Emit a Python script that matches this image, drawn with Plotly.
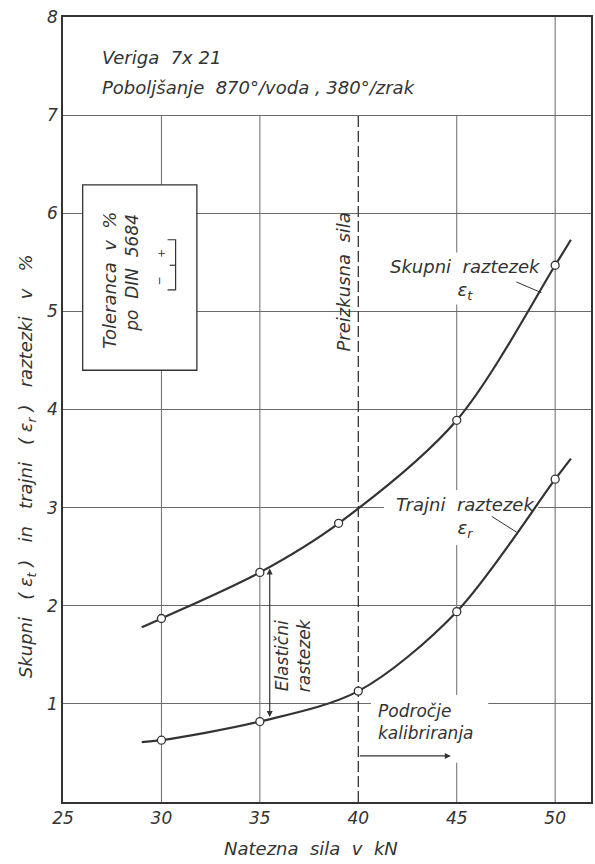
import plotly.graph_objects as go

# Measured points (tensile force in kN, elongation in %)
force_total = [30, 35, 39, 45, 50]
elong_total = [1.87, 2.34, 2.84, 3.89, 5.47]
force_perm = [30, 35, 40, 45, 50]
elong_perm = [0.63, 0.82, 1.13, 1.94, 3.29]

# Ends of the drawn curves beyond the measured points
total_start, total_end = (29.0, 1.78), (50.8, 5.73)
perm_start, perm_end = (29.0, 0.61), (50.8, 3.50)

x_ticks = [25, 30, 35, 40, 45, 50]
y_ticks = [1, 2, 3, 4, 5, 6, 7, 8]
proof_force = 40

INK = "#333333"
GRID = "#6a6a6a"
FONT = "DejaVu Sans"

fig = go.Figure()

def curve(start, xs, ys, end):
    cx = [start[0]] + xs + [end[0]]
    cy = [start[1]] + ys + [end[1]]
    fig.add_trace(go.Scatter(x=cx, y=cy, mode="lines",
                             line=dict(color=INK, width=2.2, shape="spline", smoothing=0.9),
                             hoverinfo="skip", showlegend=False))
    fig.add_trace(go.Scatter(x=xs, y=ys, mode="markers",
                             marker=dict(symbol="circle", size=8, color="white",
                                         line=dict(color=INK, width=1.3)),
                             showlegend=False))

curve(total_start, force_total, elong_total, total_end)
curve(perm_start, force_perm, elong_perm, perm_end)

shapes = []
# vertical grid lines (stop at 7 except the last one)
for xv in [30, 35, 45]:
    shapes.append(dict(type="line", x0=xv, x1=xv, y0=0, y1=7, layer="below",
                       line=dict(color=GRID, width=1)))
shapes.append(dict(type="line", x0=50, x1=50, y0=0, y1=8, layer="below",
                   line=dict(color=GRID, width=1)))
# white gaps in the grid behind the curve labels
for x0, x1, y0, y1 in [(41.45, 49.44, 5.07, 5.60), (41.3, 49.14, 2.62, 3.18),
                       (40.64, 46.6, 0.40, 1.09)]:
    shapes.append(dict(type="rect", x0=x0, x1=x1, y0=y0, y1=y1, layer="between",
                       fillcolor="white", line=dict(width=0)))
# proof-force line
shapes.append(dict(type="line", x0=proof_force, x1=proof_force, y0=0, y1=7, layer="between",
                   line=dict(color=INK, width=1.3, dash="11px,4px")))
# tolerance box
shapes.append(dict(type="rect", x0=26.0, x1=31.8, y0=4.40, y1=6.29, layer="above",
                   fillcolor="white", line=dict(color=INK, width=1.3)))
# tolerance bracket symbol
shapes.append(dict(type="path", path="M 30.31,5.73 L 30.72,5.73 L 30.72,5.22 L 30.31,5.22",
                   layer="above", line=dict(color=INK, width=1.2)))
shapes.append(dict(type="line", x0=30.42, x1=30.72, y0=5.47, y1=5.47, layer="above",
                   line=dict(color=INK, width=1.2)))
# leader lines
shapes.append(dict(type="line", x0=48.03, y0=5.30, x1=49.30, y1=5.19, layer="above",
                   line=dict(color=INK, width=1)))
shapes.append(dict(type="line", x0=46.78, y0=2.91, x1=48.04, y1=2.75, layer="above",
                   line=dict(color=INK, width=1)))

def txt(x, y, s, size=17, angle=0, xanchor="center", align="center"):
    fig.add_annotation(x=x, y=y, text=s, showarrow=False, textangle=angle,
                       xanchor=xanchor, align=align,
                       font=dict(family=FONT, size=size, color=INK, style="italic"))

txt(26.87, 7.59, "Veriga  7x 21", size=18, xanchor="left")
txt(26.87, 7.28, "Poboljšanje  870°/voda , 380°/zrak", size=18, xanchor="left")
txt(27.38, 5.32, "Toleranca  v  %", size=18, angle=-90)
txt(28.49, 5.39, "po  DIN  5684", size=17, angle=-90)
txt(30.01, 5.59, "+", size=11, angle=-90)
txt(29.91, 5.31, "−", size=11, angle=-90)
txt(39.25, 5.30, "Preizkusna  sila", size=18, angle=-90)
txt(45.45, 5.32, "Skupni  raztezek<br>ε<sub>t</sub>", size=18)
txt(45.43, 2.90, "Trajni  raztezek<br>ε<sub>r</sub>", size=18)
txt(36.65, 1.50, "Elastični<br>rastezek", size=17, angle=-90)
txt(40.90, 0.82, "Področje<br>kalibriranja", size=17, xanchor="left", align="left")

# elastic elongation double arrow
fig.add_annotation(x=35.5, y=2.38, ax=35.5, ay=0.85, xref="x", yref="y", axref="x", ayref="y",
                   text="", showarrow=True, arrowhead=2, startarrowhead=2, arrowside="end+start",
                   arrowsize=1, arrowwidth=1.2, arrowcolor=INK)
# calibration range arrow
fig.add_annotation(x=44.7, y=0.47, ax=proof_force, ay=0.47, xref="x", yref="y", axref="x",
                   ayref="y", text="", showarrow=True, arrowhead=2, arrowsize=1,
                   arrowwidth=1.2, arrowcolor=INK)

# axis titles
fig.add_annotation(x=0.47, y=-0.059, xref="paper", yref="paper", showarrow=False,
                   text="Natezna  sila  v  kN", yanchor="middle",
                   font=dict(family=FONT, size=18, color=INK, style="italic"))
fig.add_annotation(x=-0.068, y=0.428, xref="paper", yref="paper", showarrow=False,
                   textangle=-90, xanchor="center", yanchor="middle",
                   text="Skupni   ( ε<sub>t</sub> )   in   trajni   ( ε<sub>r</sub> )   raztezki   v   %",
                   font=dict(family=FONT, size=18, color=INK, style="italic"))

fig.update_layout(
    width=595, height=864,
    margin=dict(l=63, r=2, t=17, b=62),
    paper_bgcolor="white", plot_bgcolor="white",
    shapes=shapes,
    xaxis=dict(range=[25, 51.82], tickvals=x_ticks, showgrid=False, zeroline=False,
               showline=True, mirror=True, linecolor=INK, linewidth=1.6, ticks="",
               tickfont=dict(family=FONT, size=17, color=INK, style="italic")),
    yaxis=dict(range=[0, 8], tickvals=y_ticks, showgrid=True, gridcolor=GRID, gridwidth=1,
               zeroline=False, showline=True, mirror=True, linecolor=INK, linewidth=1.6,
               ticks="", tickfont=dict(family=FONT, size=17, color=INK, style="italic")),
)

fig.write_html("out.html")
